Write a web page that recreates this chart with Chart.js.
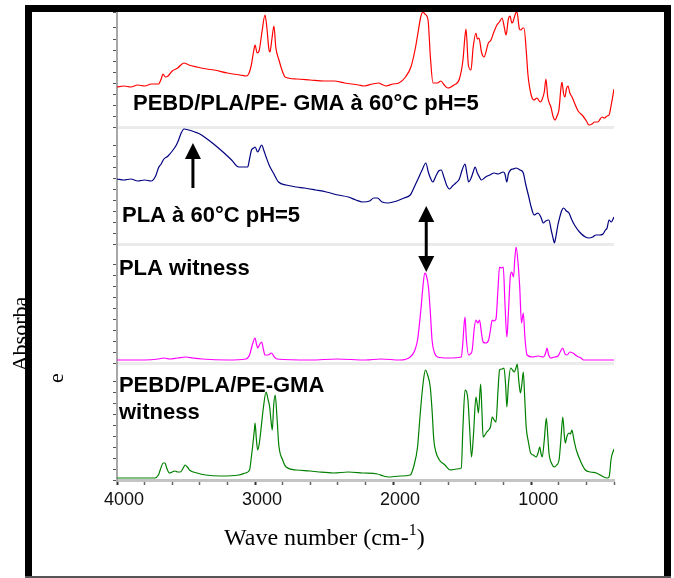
<!DOCTYPE html>
<html>
<head>
<meta charset="utf-8">
<script src="https://cdn.jsdelivr.net/npm/chart.js@4.4.1/dist/chart.umd.min.js"></script>
<style>
  html, body { margin: 0; padding: 0; background: #fff; }
  #wrap { width: 674px; height: 578px; }
</style>
</head>
<body>
<div id="wrap"><canvas id="ftir" width="674" height="578"></canvas></div>
<script>
// [wavenumber cm-1, absorbance (arbitrary, panel units)]
const pebdGma60 = [[4000,40],[3950,41],[3900,40],[3850,42],[3800,41],[3750,43],[3700,43],[3680,48],[3667,53],[3650,50],[3630,51],[3600,56],[3560,59],[3515,64],[3480,62],[3421,60],[3350,58],[3297,57],[3200,54],[3109,52],[3060,51],[3030,60],[3010,76],[3000,82],[2985,74],[2971,76],[2950,95],[2928,112],[2915,100],[2900,78],[2892,75],[2878,88],[2863,101],[2850,80],[2827,67],[2800,55],[2783,50],[2700,48],[2600,47],[2500,46],[2428,46],[2350,44],[2250,42],[2211,41],[2150,43],[2100,44],[2088,43],[2052,41],[2000,43],[1958,44],[1910,50],[1871,60],[1840,78],[1820,94],[1800,110],[1784,115],[1770,113],[1747,107],[1730,70],[1711,44],[1680,44],[1653,46],[1630,42],[1603,39],[1559,42],[1520,48],[1494,67],[1480,90],[1472,98],[1455,62],[1436,57],[1420,80],[1400,94],[1390,88],[1378,89],[1360,75],[1342,70],[1310,84],[1291,87],[1270,95],[1248,102],[1230,105],[1211,109],[1195,100],[1182,92],[1165,108],[1153,111],[1140,104],[1132,105],[1115,113],[1103,115],[1085,98],[1074,97],[1060,99],[1052,99],[1035,75],[1023,52],[1000,32],[980,27],[958,29],[935,25],[922,27],[905,35],[893,48],[880,30],[857,20],[840,10],[828,7],[810,12],[799,17],[785,38],[777,45],[765,33],[755,30],[745,38],[733,41],[720,34],[704,30],[680,22],[660,16],[625,11],[600,6],[581,2],[560,3],[540,5],[516,5],[500,8],[487,10],[470,9],[450,11],[436,12],[420,22],[400,38]];

const pla60 = [[4000,65],[3950,64],[3900,65],[3850,63],[3800,64],[3753,63],[3720,68],[3700,76],[3680,80],[3660,85],[3630,88],[3594,94],[3570,99],[3554,104],[3535,111],[3515,115],[3480,114],[3436,112],[3400,110],[3357,106],[3300,100],[3224,91],[3170,84],[3119,77],[3080,77],[3053,77],[3040,85],[3026,94],[3010,96],[3000,97],[2981,92],[2965,96],[2952,99],[2935,93],[2920,87],[2895,78],[2867,71],[2830,62],[2775,59],[2700,57],[2643,56],[2560,54],[2484,52],[2400,49],[2325,47],[2270,44],[2220,42],[2170,43],[2140,46],[2114,46],[2080,42],[2035,41],[2000,42],[1955,44],[1920,46],[1876,49],[1850,56],[1823,64],[1790,74],[1763,81],[1745,72],[1730,66],[1713,62],[1690,68],[1670,73],[1652,74],[1630,66],[1610,58],[1591,55],[1570,58],[1546,61],[1520,65],[1500,74],[1479,80],[1465,70],[1453,62],[1435,66],[1420,72],[1406,77],[1390,71],[1375,67],[1361,64],[1330,67],[1300,69],[1268,71],[1240,70],[1202,72],[1190,70],[1176,62],[1165,70],[1149,74],[1130,75],[1109,76],[1080,74],[1057,71],[1040,60],[1017,47],[1000,37],[978,29],[965,30],[951,31],[930,27],[912,21],[895,23],[872,24],[855,14],[840,5],[832,1],[820,8],[808,18],[798,24],[780,33],[766,36],[745,33],[726,31],[705,24],[686,19],[650,12],[607,7],[580,6],[554,7],[530,9],[502,9],[480,10],[462,14],[450,16],[436,24],[420,22],[400,27]];

const plaWitness = [[4000,3],[3800,3],[3700,4],[3660,5],[3620,4],[3560,5],[3502,6],[3450,5],[3384,4],[3200,3],[3066,4],[3040,8],[3020,18],[3000,25],[2990,19],[2981,15],[2965,19],[2952,21],[2940,14],[2928,8],[2905,8],[2881,10],[2860,6],[2841,4],[2600,3],[2405,4],[2200,3],[2088,4],[1950,3],[1876,6],[1845,12],[1823,23],[1797,56],[1785,75],[1771,90],[1760,88],[1744,76],[1730,50],[1718,23],[1700,10],[1678,6],[1600,5],[1506,6],[1495,20],[1485,40],[1479,46],[1470,25],[1453,8],[1440,9],[1427,13],[1412,35],[1400,43],[1387,40],[1374,43],[1360,30],[1348,21],[1330,20],[1308,23],[1295,33],[1282,43],[1270,42],[1255,44],[1240,75],[1229,96],[1215,95],[1202,96],[1190,60],[1176,26],[1165,50],[1150,88],[1141,91],[1128,86],[1118,105],[1109,116],[1095,100],[1083,76],[1070,40],[1057,50],[1045,25],[1030,8],[990,6],[950,7],[912,6],[895,10],[885,15],[875,9],[859,5],[830,6],[806,7],[790,11],[771,15],[755,9],[739,8],[720,11],[699,10],[670,7],[640,5],[620,3],[550,3],[480,3],[400,3]];

const pebdGmaWitness = [[4000,2],[3850,2],[3727,2],[3700,5],[3687,10],[3665,17],[3652,17],[3640,12],[3621,7],[3600,8],[3581,9],[3560,8],[3541,8],[3520,12],[3507,15],[3490,13],[3475,10],[3420,7],[3357,5],[3250,4],[3119,5],[3070,7],[3040,10],[3025,25],[3018,33],[3005,50],[3000,57],[2990,40],[2981,30],[2970,36],[2960,47],[2940,72],[2920,88],[2905,80],[2894,73],[2885,60],[2875,50],[2865,75],[2854,85],[2840,60],[2828,35],[2800,20],[2775,13],[2700,10],[2600,9],[2537,8],[2431,7],[2325,8],[2220,7],[2114,6],[2070,4],[2035,3],[1950,4],[1876,5],[1850,14],[1823,33],[1810,55],[1797,77],[1780,100],[1766,110],[1750,105],[1731,93],[1718,70],[1705,40],[1690,28],[1665,20],[1625,15],[1585,10],[1540,11],[1506,12],[1495,50],[1479,90],[1458,80],[1445,50],[1432,23],[1418,45],[1400,83],[1390,75],[1382,67],[1366,96],[1357,70],[1348,43],[1335,45],[1321,48],[1308,50],[1295,53],[1282,63],[1268,60],[1255,58],[1240,90],[1229,110],[1210,111],[1197,112],[1185,95],[1176,73],[1165,95],[1149,112],[1135,110],[1123,108],[1110,112],[1101,116],[1090,100],[1078,87],[1068,95],[1057,108],[1046,80],[1036,53],[1020,38],[1004,27],[985,25],[964,23],[950,27],[938,33],[928,26],[920,23],[905,40],[890,62],[880,45],[871,27],[850,16],[832,13],[815,15],[798,20],[785,40],[771,63],[760,45],[753,37],[740,44],[726,47],[715,46],[705,50],[690,40],[673,30],[640,18],[607,10],[570,8],[528,7],[500,5],[475,3],[450,2],[436,3],[430,8],[422,20],[400,31]];

const spectra = [pebdGma60, pla60, plaWitness, pebdGmaWitness];
const colors = ["#ff0000", "#000080", "#ff00ff", "#008000"];
const panelHeights = [115, 117, 119, 117];
const xMajorTicks = [4000, 3000, 2000, 1000];
const panelLabels = [
    { text: ["PEBD/PLA/PE- GMA à 60°C pH=5"], x: 3884, y: 17 },
    { text: ["PLA à 60°C pH=5"], x: 3964, y: 22 },
    { text: ["PLA witness"], x: 3986, y: 88 },
    { text: ["PEBD/PLA/PE-GMA", "witness"], x: 3986, y: 88 },
];

Chart.defaults.font.family = '"Liberation Sans", Arial, sans-serif';

const scales = {
    x: {
        type: "linear",
        position: "bottom",
        reverse: true,
        min: 400,
        max: 4000,
        afterFit: (s) => { s.height = 98; },
        border: { color: "#c4c4c4", width: 3 },
        grid: {
            drawOnChartArea: false,
            tickLength: 5,
            tickColor: (c) => xMajorTicks.includes(c.tick.value) ? "#333" : "#666",
            tickWidth: (c) => xMajorTicks.includes(c.tick.value) ? 2 : 1.5,
        },
        ticks: {
            stepSize: 200,
            autoSkip: false,
            maxRotation: 0,
            labelOffset: 7,
            padding: 4,
            color: "#111",
            font: { size: 18 },
            callback: (v) => xMajorTicks.includes(v) ? String(v) : "",
        },
    },
};

panelHeights.forEach((h, i) => {
    scales["y" + i] = {
        type: "linear",
        position: "left",
        stack: "spectra",
        stackWeight: h,
        weight: 10 - i,
        min: 0,
        max: h,
        afterFit: (s) => { s.width = 4; },
        border: { color: "#a8a8a8", width: 2 },
        grid: {
            color: (c) => c.tick.value === 0 ? "#ebebeb" : "rgba(0,0,0,0)",
            lineWidth: (c) => c.tick.value === 0 ? 3 : 1,
            tickLength: 4,
            tickColor: "#555",
            tickWidth: 1,
        },
        ticks: { display: false, stepSize: 11 },
    };
});

function arrowHead(ctx, x, y, dir) {
    ctx.beginPath();
    ctx.moveTo(x, y);
    ctx.lineTo(x - 8, y - dir * 16);
    ctx.lineTo(x + 8, y - dir * 16);
    ctx.closePath();
    ctx.fill();
}

const decor = {
    id: "decor",
    afterDraw(chart) {
        const ctx = chart.ctx;
        const xs = chart.scales.x;
        ctx.save();

        // frame
        ctx.fillStyle = "#000";
        ctx.fillRect(25, 5, 7, 572);
        ctx.fillRect(25, 5, 646, 7);
        ctx.fillRect(664, 5, 7, 572);
        ctx.fillStyle = "#555";
        ctx.fillRect(25, 576, 646, 2);

        // panel labels
        ctx.fillStyle = "#000";
        ctx.font = 'bold 22px "Liberation Sans", Arial, sans-serif';
        ctx.textAlign = "left";
        ctx.textBaseline = "alphabetic";
        panelLabels.forEach((lab, i) => {
            const ys = chart.scales["y" + i];
            lab.text.forEach((t, k) => {
                ctx.fillText(t, xs.getPixelForValue(lab.x), ys.getPixelForValue(lab.y) + k * 27);
            });
        });

        // arrows
        ctx.strokeStyle = "#000";
        ctx.lineWidth = 3;
        const ax = xs.getPixelForValue(3450);
        const a0 = chart.scales.y1.getPixelForValue(56);
        const a1 = chart.scales.y1.getPixelForValue(101);
        ctx.beginPath();
        ctx.moveTo(ax, a0);
        ctx.lineTo(ax, a1 + 12);
        ctx.stroke();
        arrowHead(ctx, ax, a1, -1);

        const bx = xs.getPixelForValue(1760);
        const b0 = chart.scales.y1.getPixelForValue(38);
        const b1 = chart.scales.y2.getPixelForValue(91);
        ctx.beginPath();
        ctx.moveTo(bx, b0 + 12);
        ctx.lineTo(bx, b1 - 12);
        ctx.stroke();
        arrowHead(ctx, bx, b0, -1);
        arrowHead(ctx, bx, b1, 1);

        // y title
        ctx.font = '22px "Liberation Serif", "Times New Roman", serif';
        ctx.textAlign = "center";
        ctx.textBaseline = "middle";
        ctx.save();
        ctx.translate(21, 334);
        ctx.rotate(-Math.PI / 2);
        ctx.fillText("Absorba", 0, 0);
        ctx.restore();
        ctx.save();
        ctx.translate(57, 378);
        ctx.rotate(-Math.PI / 2);
        ctx.fillText("e", 0, 0);
        ctx.restore();

        // x title
        ctx.textAlign = "left";
        ctx.textBaseline = "alphabetic";
        ctx.font = '24px "Liberation Serif", "Times New Roman", serif';
        let tx = 224;
        const ty = 545;
        const part1 = "Wave number (cm-";
        ctx.fillText(part1, tx, ty);
        tx += ctx.measureText(part1).width;
        ctx.font = '16px "Liberation Serif", "Times New Roman", serif';
        ctx.fillText("1", tx, ty - 10);
        tx += ctx.measureText("1").width;
        ctx.font = '24px "Liberation Serif", "Times New Roman", serif';
        ctx.fillText(")", tx, ty);

        ctx.restore();
    },
};

new Chart(document.getElementById("ftir"), {
    type: "line",
    data: {
        datasets: spectra.map((s, i) => ({
            data: s.map((p) => ({ x: p[0], y: p[1] })),
            yAxisID: "y" + i,
            borderColor: colors[i],
            borderWidth: 1.2,
            pointRadius: 0,
            cubicInterpolationMode: "monotone",
            fill: false,
        })),
    },
    options: {
        responsive: false,
        animation: false,
        devicePixelRatio: 1,
        layout: { padding: { left: 113, right: 60, top: 12, bottom: 0 } },
        plugins: { legend: { display: false }, tooltip: { enabled: false } },
        scales: scales,
    },
    plugins: [decor],
});
</script>
</body>
</html>
